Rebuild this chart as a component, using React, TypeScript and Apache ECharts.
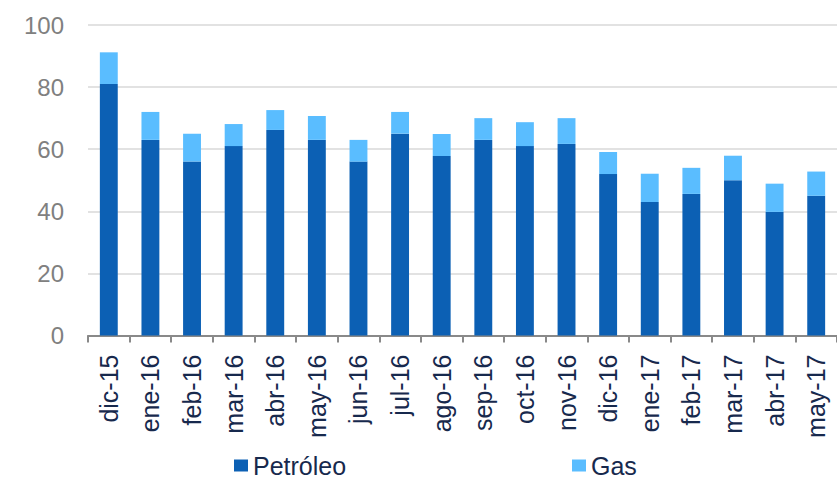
import React, { useEffect, useRef } from "react";
import * as echarts from "echarts";

// Monthly production, stacked: oil at the base, gas on top
const months = [
  "dic-15", "ene-16", "feb-16", "mar-16", "abr-16", "may-16", "jun-16", "jul-16", "ago-16",
  "sep-16", "oct-16", "nov-16", "dic-16", "ene-17", "feb-17", "mar-17", "abr-17", "may-17",
];
const petroleo = [81, 63, 56, 61, 66.2, 63, 56, 65, 57.8, 63, 61, 61.7, 52, 43, 45.6, 50, 39.8, 45];
const gas = [10.2, 9, 9, 7.1, 6.4, 7.7, 7, 7, 7.1, 7, 7.7, 8.3, 7.1, 9.1, 8.4, 7.9, 9.1, 7.8];
const yTicks = { min: 0, max: 100, interval: 20 };

const FONT = "'Liberation Sans', Arial, sans-serif";
const OIL = "#0C60B4";
const GAS = "#5ABDFF";
const NAVY = "#17294D";

export default function App() {
  const ref = useRef<HTMLDivElement>(null);

  useEffect(() => {
    if (!ref.current) return;
    const chart = echarts.init(ref.current, undefined, { renderer: "svg" });
    const legendText = { fontFamily: FONT, fontSize: 25, lineHeight: 24, color: NAVY };
    chart.setOption({
      animation: false,
      backgroundColor: "#ffffff",
      grid: { left: 88, right: -9, top: 25, bottom: 142.5, containLabel: false },
      legend: [
        {
          data: ["Petróleo"],
          left: 234,
          top: 453,
          padding: 0,
          itemWidth: 14,
          itemHeight: 12,
          icon: "rect",
          textStyle: legendText,
        },
        {
          data: ["Gas"],
          left: 572,
          top: 453,
          padding: 0,
          itemWidth: 14,
          itemHeight: 12,
          icon: "rect",
          textStyle: legendText,
        },
      ],
      xAxis: {
        type: "category",
        data: months,
        boundaryGap: true,
        axisLine: { lineStyle: { color: "#898989", width: 2 } },
        axisTick: { show: true, length: 7, lineStyle: { color: "#898989", width: 2 } },
        axisLabel: {
          rotate: 90,
          margin: 19,
          interval: 0,
          fontFamily: FONT,
          fontSize: 25,
          color: NAVY,
        },
      },
      yAxis: {
        type: "value",
        min: yTicks.min,
        max: yTicks.max,
        interval: yTicks.interval,
        axisLine: { show: false },
        axisTick: { show: false },
        splitLine: { lineStyle: { color: "#D9D9D9", width: 1.5 } },
        axisLabel: { margin: 24, fontFamily: FONT, fontSize: 24, color: "#808080" },
      },
      series: [
        {
          name: "Petróleo",
          type: "bar",
          stack: "total",
          data: petroleo,
          barWidth: "43%",
          itemStyle: { color: OIL },
        },
        {
          name: "Gas",
          type: "bar",
          stack: "total",
          data: gas,
          barWidth: "43%",
          itemStyle: { color: GAS },
        },
      ],
    });
    return () => chart.dispose();
  }, []);

  return (
    <div
      ref={ref}
      style={{ position: "fixed", left: 0, top: 0, width: 837, height: 478, background: "#fff" }}
    />
  );
}
